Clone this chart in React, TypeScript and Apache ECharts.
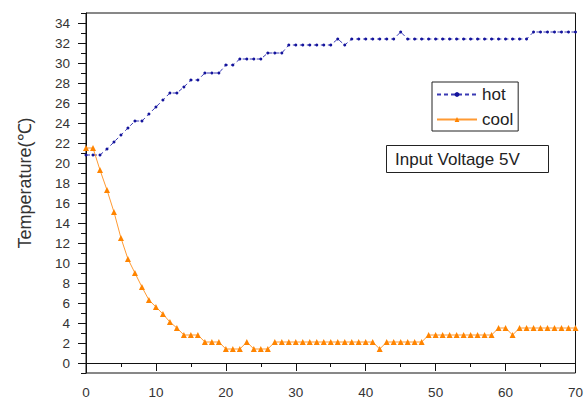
import React, { useEffect, useRef } from "react";
import * as echarts from "echarts";

const times = [
  0, 1, 2, 3, 4, 5, 6, 7, 8, 9, 10, 11, 12, 13, 14, 15, 16, 17, 18, 19, 20,
  21, 22, 23, 24, 25, 26, 27, 28, 29, 30, 31, 32, 33, 34, 35, 36, 37, 38, 39,
  40, 41, 42, 43, 44, 45, 46, 47, 48, 49, 50, 51, 52, 53, 54, 55, 56, 57, 58,
  59, 60, 61, 62, 63, 64, 65, 66, 67, 68, 69, 70,
];

const hotValues = [
  20.8, 20.8, 20.8, 21.4, 22.1, 22.8, 23.5, 24.2, 24.2, 24.9, 25.6, 26.3,
  27.0, 27.0, 27.6, 28.3, 28.3, 29.0, 29.0, 29.0, 29.8, 29.8, 30.4, 30.4,
  30.4, 30.4, 31.0, 31.0, 31.0, 31.8, 31.8, 31.8, 31.8, 31.8, 31.8, 31.8,
  32.4, 31.8, 32.4, 32.4, 32.4, 32.4, 32.4, 32.4, 32.4, 33.1, 32.4, 32.4,
  32.4, 32.4, 32.4, 32.4, 32.4, 32.4, 32.4, 32.4, 32.4, 32.4, 32.4, 32.4,
  32.4, 32.4, 32.4, 32.4, 33.1, 33.1, 33.1, 33.1, 33.1, 33.1, 33.1,
];

const coolValues = [
  21.5, 21.5, 19.3, 17.3, 15.1, 12.5, 10.4, 9.0, 7.6, 6.3, 5.6, 4.9, 4.1,
  3.5, 2.8, 2.8, 2.8, 2.1, 2.1, 2.1, 1.4, 1.4, 1.4, 2.1, 1.4, 1.4, 1.4, 2.1,
  2.1, 2.1, 2.1, 2.1, 2.1, 2.1, 2.1, 2.1, 2.1, 2.1, 2.1, 2.1, 2.1, 2.1, 1.4,
  2.1, 2.1, 2.1, 2.1, 2.1, 2.1, 2.8, 2.8, 2.8, 2.8, 2.8, 2.8, 2.8, 2.8, 2.8,
  2.8, 3.5, 3.5, 2.8, 3.5, 3.5, 3.5, 3.5, 3.5, 3.5, 3.5, 3.5, 3.5,
];

const seriesNames = ["hot", "cool"];
const yLabel = "Temperature(℃)";
const noteText = "Input Voltage 5V";

const FONT = "'Liberation Sans', Arial, sans-serif";

export default function App() {
  const ref = useRef<HTMLDivElement>(null);

  useEffect(() => {
    if (!ref.current) return;
    const chart = echarts.init(ref.current, null, { renderer: "svg" });
    const labelStyle = { color: "#333", fontSize: 13.5, fontFamily: FONT };
    chart.setOption({
      animation: false,
      backgroundColor: "#fff",
      grid: {
        left: 86,
        right: 10,
        top: 13,
        bottom: 25,
        show: true,
        borderColor: "#111",
        borderWidth: 1,
        backgroundColor: "transparent",
      },
      legend: {
        orient: "vertical",
        left: 432,
        top: 82,
        padding: [4, 5, 3, 4],
        borderColor: "#222",
        borderWidth: 1,
        itemWidth: 40,
        itemHeight: 6,
        itemGap: 8,
        data: seriesNames,
        textStyle: {
          fontSize: 17,
          fontFamily: FONT,
          color: "#222",
          lineHeight: 16,
        },
      },
      xAxis: {
        type: "value",
        min: 0,
        max: 70,
        interval: 10,
        axisLine: { show: true, lineStyle: { color: "#111", width: 1 } },
        axisTick: { show: true, length: 8, lineStyle: { color: "#111" } },
        minorTick: {
          show: true,
          splitNumber: 2,
          length: 4,
          lineStyle: { color: "#111" },
        },
        splitLine: { show: false },
        axisLabel: { ...labelStyle, margin: 12 },
      },
      yAxis: [
        {
          type: "value",
          min: -1,
          max: 35,
          interval: 1,
          axisLine: { show: true, lineStyle: { color: "#111", width: 1 } },
          axisTick: { show: false },
          splitLine: { show: false },
          axisLabel: {
            ...labelStyle,
            margin: 16,
            formatter: (v: number) =>
              Math.round(v) % 2 === 0 && v >= 0 && v <= 34 ? String(v) : "",
          },
        },
        {
          type: "value",
          position: "left",
          min: -1,
          max: 35,
          interval: 2,
          axisLine: { show: false },
          axisTick: { show: true, length: 5, lineStyle: { color: "#111" } },
          minorTick: {
            show: true,
            splitNumber: 2,
            length: 8,
            lineStyle: { color: "#111" },
          },
          splitLine: { show: false },
          axisLabel: { show: false },
        },
      ],
      series: [
        {
          name: seriesNames[0],
          type: "line",
          yAxisIndex: 0,
          data: hotValues.map((v, i) => [times[i], v]),
          symbol: "circle",
          symbolSize: 3,
          showSymbol: true,
          lineStyle: { color: "#3a3ab4", width: 1, type: [4, 3] },
          itemStyle: { color: "#14149c" },
        },
        {
          name: seriesNames[1],
          type: "line",
          yAxisIndex: 0,
          data: coolValues.map((v, i) => [times[i], v]),
          symbol: "triangle",
          symbolSize: 6,
          showSymbol: true,
          lineStyle: { color: "#ff9a33", width: 1 },
          itemStyle: { color: "#ff8400" },
        },
      ],
      graphic: [
        {
          type: "text",
          x: 25,
          y: 183,
          rotation: Math.PI / 2,
          style: {
            text: yLabel,
            fontSize: 18,
            fontFamily: FONT,
            fill: "#333",
            textAlign: "center",
            textVerticalAlign: "middle",
          },
        },
        {
          type: "rect",
          shape: { x: 386.5, y: 145.5, width: 162, height: 27 },
          style: { fill: "#fff", stroke: "#222", lineWidth: 1 },
          z: 10,
        },
        {
          type: "text",
          x: 395,
          y: 159,
          z: 11,
          style: {
            text: noteText,
            fontSize: 17,
            fontFamily: FONT,
            fill: "#222",
            textAlign: "left",
            textVerticalAlign: "middle",
          },
        },
      ],
    });
    return () => chart.dispose();
  }, []);

  return (
    <div
      ref={ref}
      style={{ position: "fixed", left: 0, top: 0, width: 586, height: 399 }}
    />
  );
}
